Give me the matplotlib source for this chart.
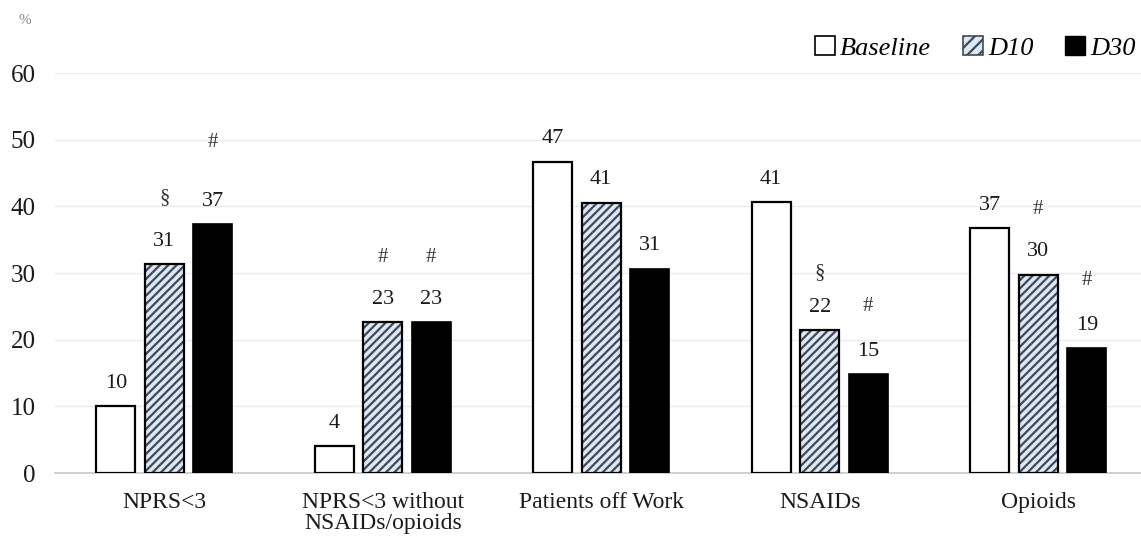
import matplotlib
matplotlib.use('Agg')
import matplotlib.pyplot as plt
from matplotlib.patches import Patch
import numpy as np

categories = ['NPRS<3', 'NPRS<3 without\nNSAIDs/opioids', 'Patients off Work', 'NSAIDs', 'Opioids']
series = ['Baseline', 'D10', 'D30']
baseline = [10.0, 4.0, 46.7, 40.6, 36.7]
d10 = [31.3, 22.6, 40.5, 21.4, 29.7]
d30 = [37.3, 22.6, 30.6, 14.8, 18.7]
labels_baseline = ['10', '4', '47', '41', '37']
labels_d10 = ['31', '23', '41', '22', '30']
labels_d30 = ['37', '23', '31', '15', '19']
# significance marks: (category index, series index, symbol)
marks = [(0, 1, '§'), (0, 2, '#'), (1, 1, '#'), (1, 2, '#'),
         (3, 1, '§'), (3, 2, '#'), (4, 1, '#'), (4, 2, '#')]
mark_gap = [44, 59, 42, 42, 35, 45, 43, 45]  # px above value label

plt.rcParams['font.family'] = ['Liberation Serif', 'DejaVu Serif']
plt.rcParams['hatch.linewidth'] = 1.6
plt.rcParams['hatch.color'] = '#3e4a5a'

fig = plt.figure(figsize=(11.41, 5.47), dpi=100)
ax = fig.add_axes([55 / 1141, 74 / 547, 1 - 55 / 1141, 400 / 547])

x = np.arange(len(categories))
width = 0.177
step = 0.222
values = [baseline, d10, d30]
texts = [labels_baseline, labels_d10, labels_d30]

ax.bar(x - step, baseline, width, color='white', edgecolor='black', linewidth=1.6, zorder=3)
ax.bar(x, d10, width, color='#dde8f3', edgecolor='#3e4a5a', linewidth=0, hatch='////', zorder=3)
ax.bar(x, d10, width, fill=False, edgecolor='black', linewidth=1.6, zorder=4)
ax.bar(x + step, d30, width, color='black', edgecolor='black', linewidth=1.2, zorder=3)

for si, (vals, labs) in enumerate(zip(values, texts)):
    for ci in range(len(categories)):
        ax.annotate(labs[ci], (x[ci] + (si - 1) * step, vals[ci]), xytext=(0, 23),
                    textcoords='offset pixels', ha='center', va='center',
                    fontsize=16, color='#1a1a1a')

for (ci, si, sym), gap in zip(marks, mark_gap):
    ax.annotate(sym, (x[ci] + (si - 1) * step, values[si][ci]), xytext=(0, 23 + gap),
                textcoords='offset pixels', ha='center', va='center',
                fontsize=15, color='#333333')

ax.set_ylim(0, 60)
ax.set_xlim(-0.5, -0.5 + 1086 / 218.5)
ax.set_yticks(range(0, 61, 10))
ax.yaxis.grid(True, color='#ececec', linewidth=1, zorder=0)
ax.set_axisbelow(True)
for s in ['top', 'right', 'left']:
    ax.spines[s].set_visible(False)
ax.spines['bottom'].set_color('#c8c8c8')
ax.spines['bottom'].set_linewidth(1.2)
ax.tick_params(axis='y', length=0, pad=14, labelsize=18, labelcolor='#1a1a1a')
ax.tick_params(axis='x', length=0, pad=14, labelsize=17, labelcolor='#1a1a1a')
ax.set_xticks(x)
ax.set_xticklabels(categories, linespacing=1.0)

fig.text(25 / 1141, 1 - 20 / 547, '%', fontsize=11, color='#888888', ha='center', va='center')

handles = [Patch(facecolor='white', edgecolor='black', linewidth=1.2),
           Patch(facecolor='#dde8f3', edgecolor='#3e4a5a', hatch='///', linewidth=1.2),
           Patch(facecolor='black', edgecolor='black')]
fig.legend(handles, series, loc='center right', bbox_to_anchor=(1141 / 1141, 1 - 48 / 547),
           ncol=3, frameon=False, prop={'style': 'italic', 'size': 19},
           handlelength=0.75, handleheight=0.75, handletextpad=0.2, columnspacing=1.2,
           borderaxespad=0, borderpad=0.2)

fig.savefig('out.png', dpi=100, facecolor='white')
